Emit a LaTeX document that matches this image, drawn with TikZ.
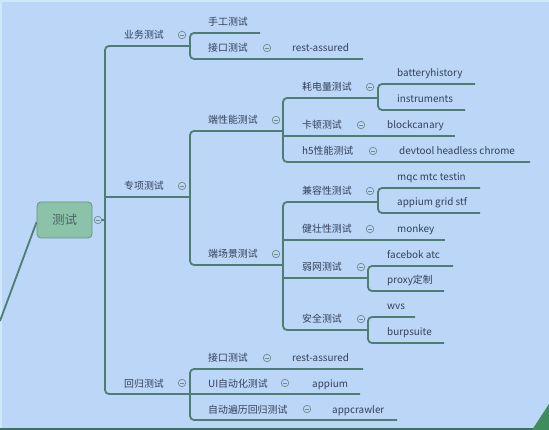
\documentclass[tikz,border=0pt]{standalone}
\usepackage{fontspec}
\newfontfamily\cjk{Noto Sans CJK SC}
\usetikzlibrary{positioning, backgrounds}

\begin{document}
\begin{tikzpicture}[x=1pt, y=-1pt, line join=round,
    branch/.style={draw=linecol, line width=1.8pt, rounded corners=4pt},
    topic/.style={anchor=base west, inner sep=0pt, text=txtcol, font=\cjk\fontsize{9.9}{11}\selectfont},
    rootbox/.style={draw=rootborder, fill=rootfill, line width=0.8pt, rounded corners=4pt,
      minimum width=55pt, minimum height=36pt, text=roottxt, font=\cjk\fontsize{12.5}{14}\selectfont},
    fold/.style={circle, draw=foldcol, fill=bgcol, line width=0.7pt, minimum size=7.5pt, inner sep=0pt,
      path picture={\draw[foldcol, line width=0.7pt]
        ([xshift=-2pt]path picture bounding box.center) -- ([xshift=2pt]path picture bounding box.center);}}]
  \definecolor{bgcol}{HTML}{BBD6F7} \definecolor{linecol}{HTML}{4F7D73}
  \definecolor{txtcol}{HTML}{33415A} \definecolor{foldcol}{HTML}{6E8C8A}
  \definecolor{rootfill}{HTML}{8CC3A8} \definecolor{rootborder}{HTML}{5F9684}
  \definecolor{roottxt}{HTML}{4A6262} \definecolor{edgecol}{HTML}{3D6E63}
  \definecolor{cornercol}{HTML}{3F8C5E} \definecolor{rimcol}{HTML}{CFE8F8}

  \useasboundingbox (0,0) rectangle (549,430);

  % root
  \coordinate (offpage) at (0,321);
  \node[rootbox] (root) at (64.5,220) {测试};
  \node[fold] (rootfold) at (98,220) {};
  \draw[branch] (rootfold.east) -- (105,220);

  % canvas and the line leaving the picture
  \begin{scope}[on background layer]
    \fill[bgcol] (0,0) rectangle (549,430);
    \fill[rimcol] (0,0) rectangle (549,2);
    \fill[rimcol] (0,0) rectangle (2,430);
    \fill[edgecol] (0,427.5) rectangle (533,430);
    \fill[cornercol] (532,430) -- (549,404) -- (549,430) -- cycle;
    \draw[branch] ([yshift=-2pt]root.west) -- (offpage);
  \end{scope}

  % branches
  \draw[branch] (190,46) -- (105,46) -- (105,394) -- (360,394);
  \draw[branch] (105,197) -- (190,197);
  \draw[branch] (260,33) -- (190,33) -- (190,59) -- (363,59);
  \draw[branch] (283,131) -- (190,131) -- (190,265) -- (283,265);
  \draw[branch] (378,98) -- (283,98) -- (283,162) -- (530,162);
  \draw[branch] (283,136) -- (455,136);
  \draw[branch] (475,84) -- (378,84) -- (378,110) -- (465,110);
  \draw[branch] (378,202) -- (283,202) -- (283,330) -- (368,330);
  \draw[branch] (283,240) -- (445,240);
  \draw[branch] (283,278) -- (368,278);
  \draw[branch] (480,188) -- (378,188) -- (378,213) -- (480,213);
  \draw[branch] (453,266) -- (368,266) -- (368,291) -- (444,291);
  \draw[branch] (415,317) -- (368,317) -- (368,343) -- (444,343);
  \draw[branch] (363,369) -- (190,369) -- (190,420) -- (397,420);

  % topics
  \foreach \n/\x/\y/\t in {ywu/124/46/业务测试, sg/208/33/手工测试, jk1/208/59/接口测试,
      ra1/292/59/rest-assured, zx/124/197/专项测试, dxn/208/131/端性能测试,
      hdl/302/98/耗电量测试, bh/397/84/batteryhistory, ins/397/110/instruments,
      kd/302/136/卡顿测试, bc/387/136/blockcanary, h5/302/162/h5性能测试,
      dt/399/162/devtool headless chrome, dcj/208/265/端场景测试,
      jr/302/202/兼容性测试, mq/397/188/mqc mtc testin, ag/397/213/appium grid stf,
      jz/302/240/健壮性测试, mk/397/240/monkey, rw/302/278/弱网测试,
      fb/387/266/facebok atc, px/387/291/proxy定制, aq/302/330/安全测试,
      wv/387/317/wvs, bs/387/343/burpsuite, hg/124/394/回归测试,
      jk2/208/369/接口测试, ra2/292/369/rest-assured, ui/208/394/UI自动化测试,
      ap/312/394/appium, zd/208/420/自动遍历回归测试, ac/332/420/appcrawler}
    \node[topic] (\n) at (\x,\y-7) {\t};

  % fold markers
  \foreach \n/\x/\y in {ywu/182/46, jk1/267/59, zx/182/197, dxn/276/131, hdl/370/98,
      kd/361/136, h5/373/162, dcj/276/265, jr/370/202, jz/370/240, rw/361/278,
      aq/361/330, hg/182/394, jk2/267/369, ui/285/394, zd/307/420}
    \node[fold] (f-\n) at (\x,\y-11) {};
\end{tikzpicture}
\end{document}
